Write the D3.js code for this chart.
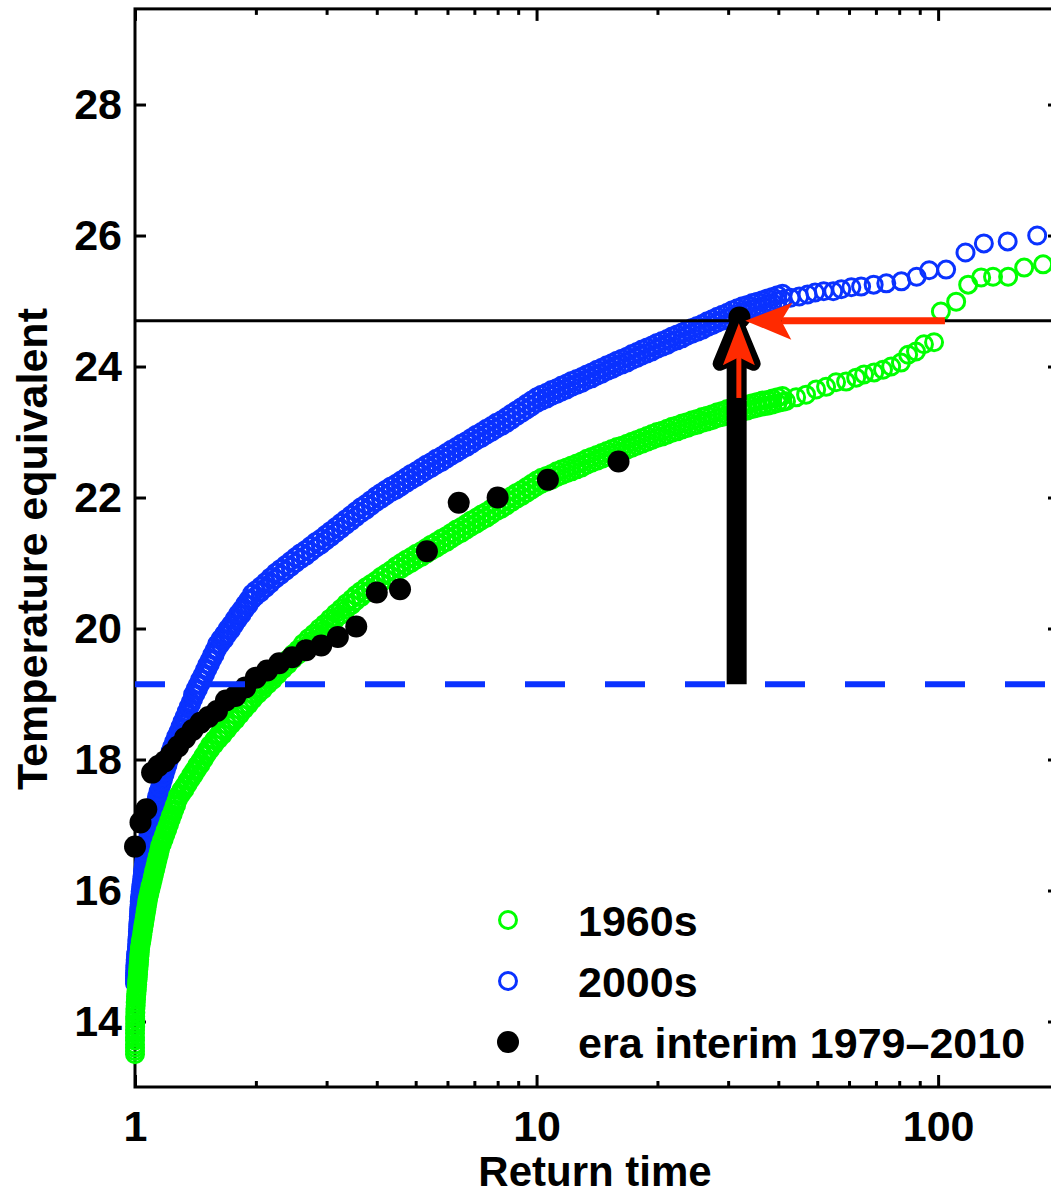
<!DOCTYPE html>
<html><head><meta charset="utf-8">
<script src="https://cdn.jsdelivr.net/npm/d3@7"></script>
<style>body{margin:0;background:#fff}</style>
</head><body>
<svg id="chart" width="1051" height="1195"></svg>
<script>
// ---------------- data ----------------
// 2000s: return times and values (band centre), then the sparse tail
const blueT = [
1.000,1.000,1.001,1.002,1.004,1.006,1.009,
1.0116,1.0133,1.0151,1.0168,1.0186,1.0203,1.0221,1.0239,1.0257,1.0274,
1.0292,1.0327,1.0363,1.0398,1.0434,1.0470,1.0506,1.0542,1.0578,1.0615,
1.0651,1.0718,1.0786,1.0855,1.0924,1.0993,1.1063,1.1133,1.1204,1.1275,
1.1347,1.1445,1.1544,1.1644,1.1744,1.1846,1.1948,1.2051,1.2155,1.2260,
1.2366,1.2515,1.2667,1.2820,1.2975,1.3132,1.3292,1.3453,1.3616,1.3781,
1.3949,1.4141,1.4337,1.4535,1.4736,1.4940,1.5147,1.5356,1.5569,1.5784,
1.6003,1.6327,1.6658,1.6996,1.7341,1.7693,1.8051,1.8418,1.8791,1.9172,
1.956,
1.995,2.054,2.114,2.175,2.239,2.304,2.371,2.441,
2.512,2.585,2.661,2.738,2.818,2.901,2.985,3.073,
3.162,3.255,3.350,3.448,3.548,3.652,3.758,3.868,
3.981,4.097,4.217,4.340,4.467,4.597,4.732,4.870,
5.012,5.158,5.309,5.464,5.623,5.788,5.957,6.131,
6.310,6.494,6.684,6.879,7.079,7.286,7.499,7.718,
7.943,8.175,8.414,8.660,8.913,9.173,9.441,9.716,
10.00,10.29,10.59,10.90,11.22,11.55,11.89,12.23,
12.59,12.96,13.34,13.72,14.13,14.54,14.96,15.40,
15.85,16.31,16.79,17.28,17.78,18.30,18.84,19.39,
19.95,20.54,21.14,21.75,22.39,23.04,23.71,24.41,
25.12,25.85,26.61,27.38,28.18,29.01,29.85,30.73,
31.62,32.55,33.50,34.48,35.48,36.52,37.58,38.68,
39.81,40.97,
42.9,45.1,47.3,49.4,51.9,54.8,57.4,60.8,64.3,69.1,74.3,81.0,88.4,95.0,104.7,117,130,149,176.5];
const blueV = [
14.58,14.66,14.74,14.82,14.90,14.98,15.04,
15.10,15.18,15.25,15.33,15.41,15.48,15.56,15.64,15.71,15.79,
15.86,15.94,16.02,16.09,16.17,16.25,16.32,16.40,16.48,16.55,
16.63,16.71,16.78,16.86,16.93,17.01,17.09,17.16,17.24,17.31,
17.39,17.47,17.54,17.62,17.70,17.77,17.85,17.92,18.00,18.08,
18.15,18.23,18.31,18.38,18.46,18.54,18.61,18.69,18.77,18.84,
18.92,19.00,19.07,19.15,19.22,19.30,19.38,19.45,19.53,19.60,
19.68,19.76,19.83,19.91,19.98,20.06,20.14,20.21,20.29,20.36,
20.44,
20.49,20.55,20.62,20.69,20.76,20.82,20.88,20.94,
21.00,21.06,21.11,21.17,21.23,21.28,21.34,21.40,
21.46,21.52,21.58,21.64,21.70,21.76,21.81,21.87,
21.93,21.98,22.03,22.08,22.12,22.17,22.22,22.27,
22.31,22.36,22.41,22.45,22.50,22.54,22.59,22.64,
22.68,22.73,22.77,22.82,22.87,22.91,22.96,23.00,
23.05,23.09,23.14,23.19,23.24,23.29,23.34,23.39,
23.44,23.48,23.51,23.55,23.58,23.62,23.65,23.69,
23.72,23.75,23.79,23.82,23.86,23.89,23.93,23.96,
24.00,24.03,24.06,24.10,24.13,24.17,24.20,24.23,
24.27,24.30,24.33,24.37,24.40,24.43,24.47,24.50,
24.53,24.56,24.60,24.63,24.67,24.70,24.73,24.77,
24.80,24.83,24.85,24.88,24.90,24.92,24.95,24.97,
25.00,25.02,
25.05,25.07,25.10,25.13,25.15,25.15,25.18,25.21,25.22,25.25,25.27,25.30,25.37,25.47,25.48,25.74,25.88,25.91,26.00];
// 2000s: upper edge of the dense band (same return times as the first 184 entries of blueT)
const blueEdgeV = [
14.62,14.70,14.78,14.86,14.94,15.02,15.07,
15.14,15.22,15.29,15.37,15.45,15.52,15.60,15.68,15.75,15.83,
15.90,15.98,16.06,16.13,16.21,16.29,16.36,16.44,16.52,16.59,
16.67,16.75,16.82,16.90,16.97,17.05,17.13,17.20,17.28,17.35,
17.43,17.51,17.58,17.66,17.74,17.81,17.89,17.96,18.04,18.12,
18.19,18.27,18.35,18.42,18.50,18.58,18.65,18.73,18.81,18.88,
18.99,19.07,19.14,19.22,19.29,19.37,19.45,19.52,19.60,19.67,
19.76,19.84,19.91,19.99,20.06,20.14,20.22,20.29,20.37,20.44,
20.53,
20.58,20.64,20.71,20.78,20.85,20.91,20.97,21.03,
21.09,21.15,21.20,21.26,21.32,21.37,21.43,21.49,
21.55,21.61,21.67,21.73,21.79,21.85,21.90,21.96,
22.02,22.07,22.12,22.17,22.21,22.26,22.31,22.36,
22.40,22.45,22.50,22.54,22.59,22.63,22.68,22.73,
22.77,22.82,22.86,22.91,22.96,23.00,23.05,23.09,
23.14,23.18,23.23,23.28,23.33,23.38,23.43,23.48,
23.53,23.57,23.60,23.64,23.67,23.71,23.74,23.78,
23.81,23.84,23.88,23.91,23.95,23.98,24.02,24.05,
24.09,24.12,24.15,24.19,24.22,24.26,24.29,24.32,
24.36,24.39,24.42,24.46,24.49,24.52,24.56,24.59,
24.62,24.65,24.69,24.72,24.76,24.79,24.82,24.86,
24.89,24.92,24.94,24.97,24.99,25.01,25.04,25.06,
25.09,25.11];

// 1960s
const greenT = [
1.000,1.000,1.000,1.000,1.001,1.001,1.002,1.004,
1.0058,1.0081,1.0104,1.0127,1.0151,1.0174,1.0198,1.0221,1.0245,1.0268,
1.0291,1.0338,1.0386,1.0434,1.0482,1.0530,1.0579,1.0628,1.0677,1.0726,
1.0775,1.0850,1.0925,1.1000,1.1077,1.1154,1.1232,1.1310,1.1388,1.1468,
1.1545,1.1665,1.1786,1.1908,1.2032,1.2156,1.2283,1.2410,1.2539,1.2666,
1.2797,1.3034,1.3275,1.3521,1.3772,1.4027,1.4287,1.4551,1.4821,1.5095,
1.5375,1.5758,1.6153,1.6555,1.6968,1.7391,1.7825,1.8270,1.8727,1.9194,
1.9674,2.0246,2.0835,2.1441,2.2065,2.2706,2.3367,2.4046,2.4746,2.5466,
2.6206,2.7031,2.7882,2.8759,2.9664,3.0598,3.1561,3.2554,3.3578,3.4635,
3.548,3.652,3.758,3.868,
3.981,4.097,4.217,4.340,4.467,4.597,4.732,4.870,
5.012,5.158,5.309,5.464,5.623,5.788,5.957,6.131,
6.310,6.494,6.684,6.879,7.079,7.286,7.499,7.718,
7.943,8.175,8.414,8.660,8.913,9.173,9.441,9.716,
10.00,10.29,10.59,10.90,11.22,11.55,11.89,12.23,
12.59,12.96,13.34,13.72,14.13,14.54,14.96,15.40,
15.85,16.31,16.79,17.28,17.78,18.30,18.84,19.39,
19.95,20.54,21.14,21.75,22.39,23.04,23.71,24.41,
25.12,25.85,26.61,27.38,28.18,29.01,29.85,30.73,
31.62,32.55,33.50,34.48,35.48,36.52,37.58,38.68,
39.81,40.97,
41.8,44.3,46.9,49.7,52.6,55.7,59.0,62.5,65.4,69.3,72.9,76.4,80.8,84.2,88.1,92.2,97.7,101.6,110.9,118.8,128,137,149.4,163.8,182.6];
const greenV = [
13.50,13.60,13.71,13.82,13.92,14.03,14.14,14.24,
14.34,14.42,14.49,14.57,14.64,14.72,14.80,14.87,14.95,15.02,
15.10,15.18,15.25,15.33,15.41,15.48,15.56,15.64,15.71,15.79,
15.86,15.94,16.02,16.09,16.17,16.25,16.32,16.40,16.48,16.55,
16.63,16.71,16.78,16.86,16.93,17.01,17.09,17.16,17.24,17.31,
17.39,17.47,17.54,17.62,17.70,17.77,17.85,17.92,18.00,18.08,
18.15,18.23,18.31,18.38,18.46,18.54,18.61,18.69,18.77,18.84,
18.92,19.00,19.07,19.15,19.22,19.30,19.38,19.45,19.53,19.60,
19.68,19.76,19.83,19.91,19.98,20.06,20.14,20.21,20.29,20.36,
20.42,20.48,20.54,20.59,
20.64,20.70,20.75,20.80,20.86,20.91,20.96,21.00,
21.05,21.09,21.14,21.19,21.23,21.28,21.32,21.37,
21.42,21.46,21.51,21.56,21.60,21.65,21.69,21.74,
21.79,21.83,21.88,21.93,21.98,22.02,22.07,22.12,
22.17,22.21,22.24,22.27,22.31,22.34,22.37,22.40,
22.43,22.46,22.50,22.53,22.56,22.59,22.62,22.65,
22.68,22.70,22.73,22.76,22.79,22.82,22.85,22.88,
22.91,22.93,22.96,22.99,23.01,23.04,23.06,23.09,
23.11,23.14,23.16,23.18,23.21,23.23,23.26,23.28,
23.30,23.31,23.33,23.35,23.37,23.39,23.40,23.42,
23.44,23.46,
23.47,23.53,23.57,23.65,23.69,23.76,23.77,23.83,23.88,23.91,23.95,24.00,24.06,24.18,24.23,24.34,24.37,24.84,24.99,25.25,25.36,25.37,25.37,25.51,25.56];
// 1960s: upper edge of the dense band (same return times as the first 174 entries of greenT)
const greenEdgeV = [
13.55,13.65,13.76,13.87,13.97,14.08,14.19,14.29,
14.38,14.46,14.53,14.61,14.68,14.76,14.84,14.91,14.99,15.06,
15.14,15.22,15.29,15.37,15.45,15.52,15.60,15.68,15.75,15.83,
15.90,15.98,16.06,16.13,16.21,16.29,16.36,16.44,16.52,16.59,
16.68,16.76,16.83,16.91,16.98,17.06,17.14,17.21,17.29,17.36,
17.45,17.53,17.60,17.68,17.76,17.83,17.91,17.98,18.06,18.14,
18.22,18.30,18.38,18.45,18.53,18.61,18.68,18.76,18.84,18.91,
19.00,19.08,19.15,19.23,19.30,19.38,19.46,19.53,19.61,19.68,
19.77,19.85,19.92,20.00,20.07,20.15,20.23,20.30,20.38,20.45,
20.51,20.57,20.63,20.68,
20.73,20.79,20.84,20.89,20.95,21.00,21.05,21.09,
21.14,21.18,21.23,21.28,21.32,21.37,21.41,21.46,
21.51,21.55,21.60,21.65,21.69,21.74,21.78,21.83,
21.88,21.92,21.97,22.02,22.07,22.11,22.16,22.21,
22.26,22.30,22.33,22.36,22.40,22.43,22.46,22.49,
22.52,22.55,22.59,22.62,22.65,22.68,22.71,22.74,
22.77,22.79,22.82,22.85,22.88,22.91,22.94,22.97,
23.00,23.02,23.05,23.08,23.10,23.13,23.15,23.18,
23.20,23.23,23.25,23.27,23.30,23.32,23.35,23.37,
23.39,23.40,23.42,23.44,23.46,23.48,23.49,23.51,
23.53,23.55];

// ERA-Interim 1979-2010
const eraT = [32,16,10.67,8,6.4,5.333,4.571,4,3.556,3.2,2.909,2.667,2.462,2.286,2.133,2,
              1.882,1.778,1.684,1.6,1.524,1.455,1.391,1.333,1.28,1.231,1.185,1.143,1.103,1.067,1.032,1];
const eraV = [24.75,22.55,22.27,22.0,21.92,21.18,20.6,20.55,20.03,19.87,19.74,19.67,19.56,19.47,19.36,19.25,
              19.1,18.97,18.9,18.74,18.65,18.56,18.45,18.33,18.2,18.08,17.97,17.9,17.8,17.24,17.04,16.67];

const seriesNames = ["1960s", "2000s", "era interim 1979\u20132010"];
const xMajorTicks = [1, 10, 100];
const xMinorTicks = [2,3,4,5,6,7,8,9,20,30,40,50,60,70,80,90];
const yTicks = [14,16,18,20,22,24,26,28];

const thresholdLevel = 24.70;     // solid black line
const baselineLevel = 19.15;      // dashed blue line
const bigArrow = {T: 31.5, from: 19.15, to: 24.70};
const redUpArrow = {T: 31.9, from: 23.52, to: 24.66};
const redLeftArrow = {level: 24.70, fromT: 104, toT: 33.1};

// ---------------- drawing ----------------
const GREEN = "#00ff00", BLUE = "#0a32ff", RED = "#ff2a00";
const FONT = '"Liberation Sans", Arial, Helvetica, sans-serif';
const FS = 43;

const svg = d3.select("#chart");
const x = d3.scaleLog().domain([1, 200]).range([135, 1059]);
const y = d3.scaleLinear().domain([13, 29.46]).range([1087, 8.9]);
const [x0, x1] = x.range();
const [yb, yt] = y.range();

function styleAxis(g, labels) {
  g.attr("font-family", FONT).attr("font-size", FS).attr("font-weight", "bold");
  g.select(".domain").remove();
  g.selectAll(".tick line").attr("stroke", "#000").attr("stroke-width", 3);
  g.selectAll(".tick text").attr("fill", "#000");
  if (!labels) g.selectAll(".tick text").remove();
}

// bottom axis
svg.append("g").attr("transform", `translate(0,${yb})`)
  .call(d3.axisBottom(x).tickValues(xMajorTicks).tickFormat(d3.format("d"))
        .tickSizeInner(-12).tickSizeOuter(0).tickPadding(23))
  .call(g => styleAxis(g, true));
svg.append("g").attr("transform", `translate(0,${yb})`)
  .call(d3.axisBottom(x).tickValues(xMinorTicks).tickFormat("").tickSizeInner(-6).tickSizeOuter(0))
  .call(g => styleAxis(g, false));
// top axis
svg.append("g").attr("transform", `translate(0,${yt})`)
  .call(d3.axisTop(x).tickValues(xMajorTicks).tickFormat("").tickSizeInner(-12).tickSizeOuter(0))
  .call(g => styleAxis(g, false));
svg.append("g").attr("transform", `translate(0,${yt})`)
  .call(d3.axisTop(x).tickValues(xMinorTicks).tickFormat("").tickSizeInner(-6).tickSizeOuter(0))
  .call(g => styleAxis(g, false));
// left / right axes
svg.append("g").attr("transform", `translate(${x0},0)`)
  .call(d3.axisLeft(y).tickValues(yTicks).tickFormat(d3.format("d"))
        .tickSizeInner(-11).tickSizeOuter(0).tickPadding(13))
  .call(g => styleAxis(g, true));
svg.append("g").attr("transform", `translate(${x1},0)`)
  .call(d3.axisRight(y).tickValues(yTicks).tickFormat("").tickSizeInner(-11).tickSizeOuter(0))
  .call(g => styleAxis(g, false));

// frame
svg.append("rect").attr("x", x0).attr("y", yt).attr("width", x1 - x0).attr("height", yb - yt)
  .attr("fill", "none").attr("stroke", "#000").attr("stroke-width", 3);

// series
function rings(T, V, color) {
  svg.append("g").selectAll("circle").data(d3.zip(T, V)).join("circle")
    .attr("cx", d => x(d[0])).attr("cy", d => y(d[1])).attr("r", 8.5)
    .attr("fill", "none").attr("stroke", color).attr("stroke-width", 3);
}
rings(blueT, blueV, BLUE);
rings(blueT, blueEdgeV, BLUE);
rings(greenT, greenV, GREEN);
rings(greenT, greenEdgeV, GREEN);
svg.append("g").selectAll("circle").data(d3.zip(eraT, eraV)).join("circle")
  .attr("cx", d => x(d[0])).attr("cy", d => y(d[1])).attr("r", 11).attr("fill", "#000");

// reference lines
svg.append("line").attr("x1", x0).attr("x2", x1)
  .attr("y1", y(thresholdLevel)).attr("y2", y(thresholdLevel))
  .attr("stroke", "#000").attr("stroke-width", 3);
svg.append("line").attr("x1", x0).attr("x2", x1)
  .attr("y1", y(baselineLevel)).attr("y2", y(baselineLevel))
  .attr("stroke", BLUE).attr("stroke-width", 6)
  .attr("stroke-dasharray", "40,40").attr("stroke-dashoffset", 10);

// big black arrow
{
  const bx = x(bigArrow.T), tipY = y(bigArrow.to);
  svg.append("line").attr("x1", bx).attr("x2", bx)
    .attr("y1", y(bigArrow.from)).attr("y2", tipY + 38)
    .attr("stroke", "#000").attr("stroke-width", 20);
  svg.append("path")
    .attr("d", `M${bx},${tipY + 2} L${bx + 17},${tipY + 43} L${bx},${tipY + 36} L${bx - 17},${tipY + 43} Z`)
    .attr("fill", "#000").attr("stroke", "#000").attr("stroke-width", 14).attr("stroke-linejoin", "round");
}
// red up arrow
{
  const rx = x(redUpArrow.T), tipY = y(redUpArrow.to);
  svg.append("line").attr("x1", rx).attr("x2", rx)
    .attr("y1", y(redUpArrow.from)).attr("y2", tipY + 32)
    .attr("stroke", RED).attr("stroke-width", 5);
  svg.append("path")
    .attr("d", `M${rx},${tipY} L${rx + 16},${tipY + 42} L${rx},${tipY + 34} L${rx - 16},${tipY + 42} Z`)
    .attr("fill", RED);
}
// red left arrow
{
  const ly = y(redLeftArrow.level), tipX = x(redLeftArrow.toT);
  svg.append("line").attr("x1", x(redLeftArrow.fromT)).attr("x2", tipX + 36)
    .attr("y1", ly).attr("y2", ly).attr("stroke", RED).attr("stroke-width", 7);
  svg.append("path")
    .attr("d", `M${tipX},${ly} L${tipX + 47},${ly - 18} L${tipX + 36},${ly} L${tipX + 46},${ly + 19} Z`)
    .attr("fill", RED);
}

// legend
const legend = svg.append("g").attr("font-family", FONT).attr("font-size", FS).attr("font-weight", "bold");
const legendRows = [
  {name: seriesNames[0], type: "ring", color: GREEN},
  {name: seriesNames[1], type: "ring", color: BLUE},
  {name: seriesNames[2], type: "dot", color: "#000"}
];
legendRows.forEach((r, i) => {
  const cy = 920 + i * 61;
  if (r.type === "ring")
    legend.append("circle").attr("cx", 508).attr("cy", cy).attr("r", 8.5)
      .attr("fill", "none").attr("stroke", r.color).attr("stroke-width", 3);
  else
    legend.append("circle").attr("cx", 508).attr("cy", cy).attr("r", 11).attr("fill", r.color);
  legend.append("text").attr("x", 578).attr("y", cy + 16).text(r.name);
});

// axis titles
svg.append("text").attr("x", 595).attr("y", 1186).attr("text-anchor", "middle")
  .attr("font-family", FONT).attr("font-size", 42).attr("font-weight", "bold").text("Return time");
svg.append("text").attr("transform", "translate(47,549) rotate(-90)").attr("text-anchor", "middle")
  .attr("font-family", FONT).attr("font-size", FS).attr("font-weight", "bold").text("Temperature equivalent");
</script>
</body></html>
